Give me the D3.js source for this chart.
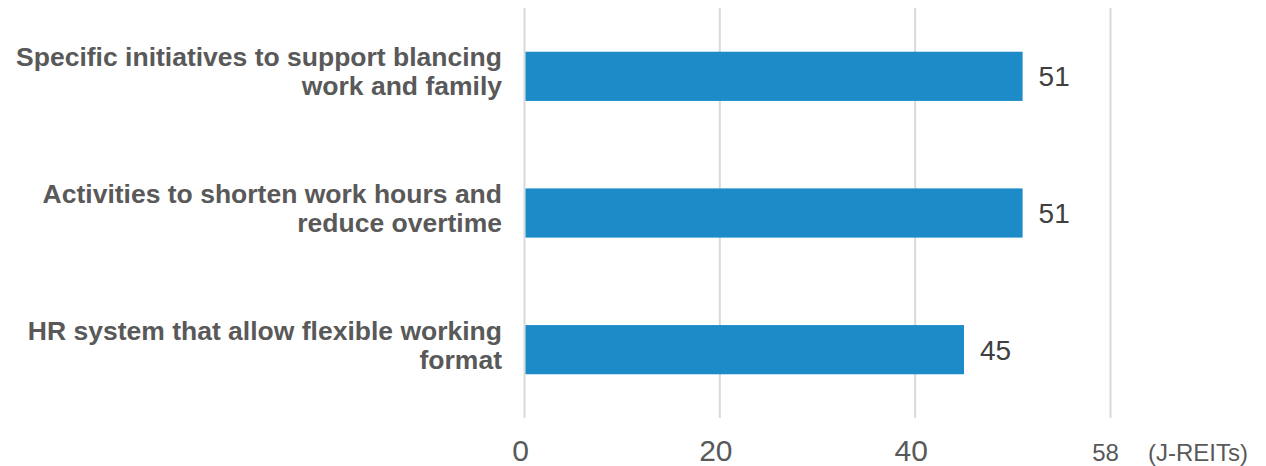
<!DOCTYPE html>
<html>
<head>
<meta charset="utf-8">
<script src="https://cdn.jsdelivr.net/npm/d3@7"></script>
<style>
  html, body { margin: 0; padding: 0; background: #fff; }
  svg { display: block; font-family: "Liberation Sans", Arial, sans-serif; }
</style>
</head>
<body>
<svg id="chart" width="1266" height="466"></svg>
<script>
// Number of J-REITs engaged in each work-life initiative
const categories = [
  "Specific initiatives to support blancing\nwork and family",
  "Activities to shorten work hours and\nreduce overtime",
  "HR system that allow flexible working\nformat"
];
const values = [51, 51, 45];
const tickValues = [0, 20, 40];
const gridValues = [0, 20, 40, 60];
const totalLabel = "58";
const unitLabel = "(J-REITs)";

const svg = d3.select("#chart");

const x = d3.scaleLinear().domain([0, 60]).range([524.5, 1110.5]);
const y = d3.scaleBand()
  .domain(categories)
  .range([8, 418])
  .paddingInner(0.64)
  .paddingOuter(0.32);

// vertical gridlines
svg.append("g")
  .selectAll("line")
  .data(gridValues)
  .join("line")
  .attr("x1", d => x(d)).attr("x2", d => x(d))
  .attr("y1", 8).attr("y2", 418)
  .attr("stroke", "#d9d9d9")
  .attr("stroke-width", 2);

// bars
svg.append("g")
  .selectAll("rect")
  .data(values)
  .join("rect")
  .attr("x", x(0) + 1)
  .attr("y", (d, i) => y(categories[i]))
  .attr("width", d => x(d) - x(0) - 1)
  .attr("height", y.bandwidth())
  .attr("fill", "#1e8bc9");

// value labels
svg.append("g")
  .selectAll("text")
  .data(values)
  .join("text")
  .attr("x", d => x(d) + 16)
  .attr("y", (d, i) => y(categories[i]) + y.bandwidth() / 2)
  .attr("dy", "0.36em")
  .attr("font-size", 28)
  .attr("fill", "#404040")
  .text(d => d);

// category labels (two lines, right aligned)
const cat = svg.append("g")
  .selectAll("text")
  .data(categories)
  .join("text")
  .attr("text-anchor", "end")
  .attr("font-size", 26.5)
  .attr("font-weight", "bold")
  .attr("fill", "#595959");
cat.each(function (d) {
  const cy = y(d) + y.bandwidth() / 2;
  const lines = d.split("\n");
  d3.select(this).selectAll("tspan")
    .data(lines)
    .join("tspan")
    .attr("x", 502)
    .attr("y", (l, j) => cy - 10 + j * 29)
    .text(l => l);
});

// x axis tick labels
const axis = d3.axisBottom(x).tickValues(tickValues).tickSize(0).tickPadding(0);
const gAxis = svg.append("g")
  .attr("transform", "translate(-4.5, 0)")
  .call(axis);
gAxis.select(".domain").remove();
gAxis.selectAll("text")
  .attr("y", 461)
  .attr("dy", 0)
  .attr("font-size", 30)
  .attr("font-family", "Liberation Sans, Arial, sans-serif")
  .attr("fill", "#595959");

// end-of-axis total and unit
svg.append("text")
  .attr("x", x(60) - 5)
  .attr("y", 461)
  .attr("text-anchor", "middle")
  .attr("font-size", 24)
  .attr("fill", "#595959")
  .text(totalLabel);
svg.append("text")
  .attr("x", 1148)
  .attr("y", 461)
  .attr("font-size", 24)
  .attr("fill", "#595959")
  .text(unitLabel);
</script>
</body>
</html>
